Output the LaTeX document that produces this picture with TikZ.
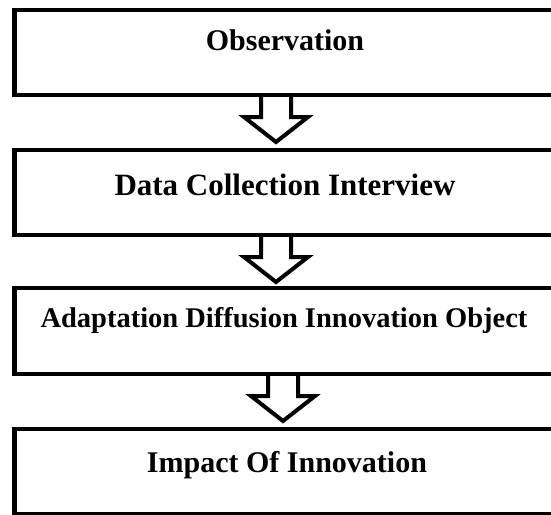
\documentclass[tikz,border=0pt]{standalone}
\usepackage{fontspec}
\setmainfont{Liberation Serif}
\tikzset{
  box/.style={draw=black, line width=4.5pt, fill=none, rectangle, inner sep=0pt},
  lbl/.style={anchor=base, inner sep=0pt, font=\fontsize{30}{34}\selectfont\bfseries},
  hollowarrow/.style={draw=black, line width=4pt, miter limit=10, line join=miter}
}
\begin{document}
\begin{tikzpicture}[x=1pt,y=-1pt]
\useasboundingbox (0,0) rectangle (551,514);
% boxes (stroke centre lines)
\draw[box] (14.5,10) rectangle (562,95);
\draw[box] (14.5,150) rectangle (562,235);
\draw[box] (14.5,288) rectangle (562,374);
\draw[box] (14.5,429) rectangle (562,514.5);
% labels
\node[lbl] (t1) at (285,50) {Observation};
\node[lbl, font=\fontsize{31}{35}\selectfont\bfseries] (t2) at (285,195) {Data Collection Interview};
\node[lbl, font=\fontsize{28.5}{33}\selectfont\bfseries] (t3) at (284,327) {Adaptation Diffusion Innovation Object};
\node[lbl] (t4) at (287,472) {Impact Of Innovation};
% hollow block arrows
\coordinate (a1) at (276,95);
\coordinate (a2) at (276,235);
\coordinate (a3) at (283,374);
\foreach \a in {a1,a2,a3}{
  \draw[hollowarrow] (\a) ++(-15,0) -- ++(0,22) -- ++(-17,0) -- ++(32,25) -- ++(32,-25) -- ++(-17,0) -- ++(0,-22);
}
\end{tikzpicture}
\end{document}
